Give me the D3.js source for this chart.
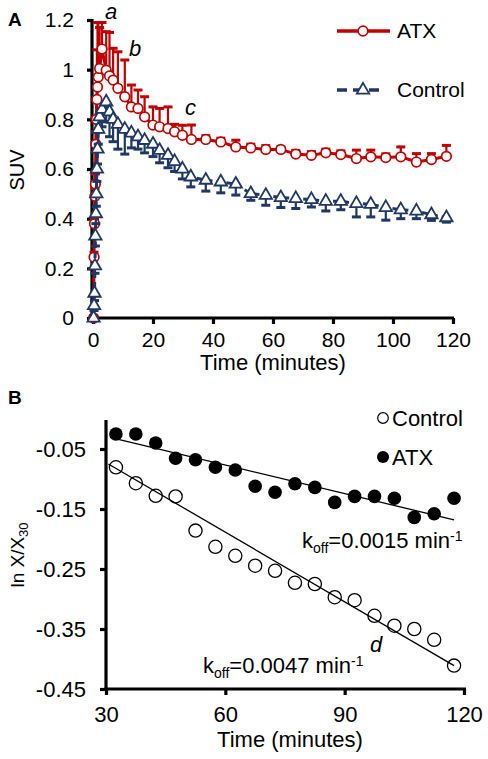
<!DOCTYPE html>
<html><head><meta charset="utf-8">
<script src="https://cdn.jsdelivr.net/npm/d3@7"></script>
<style>
html,body{margin:0;padding:0;background:#fff;}
svg{display:block;font-family:"Liberation Sans",Arial,sans-serif;}
</style></head>
<body><svg id="c" width="488" height="759"></svg>
<script>
// ---------- Panel A data (SUV vs time) ----------
const atxTime = [0.2,0.35,0.5,0.65,0.8,0.95,1.1,1.3,1.5,1.75,2.2,3.0,4.4,5.5,6.7,8.3,10.6,12.8,15.0,17.2,20.0,22.2,25.0,27.2,29.8,32.8,37.6,42.6,47.6,52.6,57.6,62.6,67.6,72.8,77.6,82.6,87.8,92.6,97.6,102.6,107.8,112.8,117.8];
const atxSUV  = [0,0.245,0.38,0.49,0.54,0.70,0.80,0.88,0.93,0.97,1.005,1.083,0.998,0.975,0.958,0.925,0.891,0.85,0.844,0.81,0.777,0.77,0.763,0.75,0.736,0.719,0.719,0.709,0.689,0.685,0.679,0.679,0.66,0.655,0.665,0.658,0.642,0.649,0.646,0.649,0.628,0.638,0.651];
const atxErr  = [0.01,0.02,0.02,0.03,0.04,0.05,0.08,0.2,0.26,0.22,0.165,0.107,0.155,0.175,0.128,0.147,0.148,0.088,0.074,0.081,0.073,0.074,0.087,0.03,0.04,0.058,0.015,0.015,0.027,0.015,0.015,0.01,0.015,0.015,0.015,0.015,0.034,0.027,0.015,0.04,0.034,0.024,0.044];

const ctlTime = [0.2,0.35,0.5,0.65,0.8,0.95,1.1,1.3,1.5,1.75,2.2,3.0,4.4,5.5,6.7,8.3,10.6,12.8,15.0,17.2,20.0,22.2,25.0,27.2,29.8,32.6,37.6,42.6,47.6,52.6,57.6,62.6,67.6,72.8,77.6,82.6,87.8,92.6,97.6,102.6,107.8,112.8,117.8];
const ctlSUV  = [0,0.05,0.1,0.21,0.33,0.42,0.5,0.6,0.68,0.76,0.81,0.84,0.87,0.83,0.80,0.78,0.76,0.745,0.73,0.715,0.70,0.675,0.655,0.63,0.60,0.568,0.555,0.548,0.539,0.501,0.494,0.485,0.481,0.477,0.470,0.470,0.461,0.458,0.445,0.436,0.431,0.416,0.404];
const ctlErr  = [0.01,0.02,0.03,0.03,0.04,0.04,0.05,0.05,0.06,0.06,0.06,0.07,0.08,0.10,0.09,0.10,0.10,0.06,0.05,0.05,0.05,0.05,0.05,0.04,0.04,0.04,0.044,0.044,0.044,0.027,0.04,0.04,0.04,0.03,0.039,0.034,0.054,0.051,0.051,0.036,0.031,0.023,0.018];

const topXTicks = [0,20,40,60,80,100,120];
const topYTicks = [0,0.2,0.4,0.6,0.8,1,1.2];

// ---------- Panel B data (ln X/X30 vs time) ----------
const koTime = [32.5,37.5,42.5,47.5,52.5,57.5,62.5,67.5,72.5,77.5,82.5,87.5,92.5,97.5,102.5,107.5,112.5,117.5];
const koATX  = [-0.025,-0.025,-0.04,-0.0655,-0.068,-0.0805,-0.085,-0.112,-0.122,-0.108,-0.114,-0.139,-0.129,-0.129,-0.132,-0.164,-0.158,-0.132];
const koCtl  = [-0.0805,-0.107,-0.128,-0.129,-0.186,-0.213,-0.228,-0.2445,-0.253,-0.273,-0.275,-0.297,-0.302,-0.328,-0.3445,-0.35,-0.368,-0.411];
const fitATX = [[31,-0.0305],[117.5,-0.168]];
const fitCtl = [[30.6,-0.075],[117.5,-0.411]];
const botXTicks = [30,60,90,120];
const botYTicks = [-0.05,-0.15,-0.25,-0.35,-0.45];

const RED = "#C00000", BLUE = "#1F3864";
const FONT = "Liberation Sans, Arial, sans-serif";
const svg = d3.select("#c");

function styleAxis(g, fs){
  g.attr("font-size",fs).attr("font-family",FONT);
  g.select(".domain").attr("stroke","#000").attr("stroke-width",3.2);
  g.selectAll(".tick line").attr("stroke","#000").attr("stroke-width",3.2);
  g.selectAll(".tick text").attr("fill","#000");
}
const hyph = f => d => f(d).replace("\u2212","-");

// ================= Panel A =================
const xA = d3.scaleLinear().domain([0,120]).range([93,453]);
const yA = d3.scaleLinear().domain([0,1.2]).range([318,20]);

const axA_y = svg.append("g").attr("transform","translate(92,0)")
  .call(d3.axisLeft(yA).tickValues(topYTicks).tickFormat(d3.format("~g")).tickSize(5).tickSizeOuter(0).tickPadding(13));
styleAxis(axA_y,21);
axA_y.select(".domain").attr("d","M0,319.5V19");
const axA_x = svg.append("g").attr("transform","translate(0,318)")
  .call(d3.axisBottom(xA).tickValues(topXTicks).tickSize(6).tickSizeOuter(0).tickPadding(8));
styleAxis(axA_x,21);
axA_x.select(".domain").attr("d","M91,0H454");

const atx = atxTime.map((t,i)=>({t,v:atxSUV[i],e:atxErr[i]}));
const ctl = ctlTime.map((t,i)=>({t,v:ctlSUV[i],e:ctlErr[i]}));
const lineA = d3.line().x(d=>xA(d.t)).y(d=>yA(d.v));

// ATX
svg.append("path").attr("d",lineA(atx)).attr("fill","none").attr("stroke",RED).attr("stroke-width",3);
const eA = svg.append("g").attr("stroke",RED).attr("stroke-width",2.2);
atx.forEach(d=>{
  eA.append("line").attr("x1",xA(d.t)).attr("x2",xA(d.t)).attr("y1",yA(d.v)).attr("y2",yA(d.v+d.e));
  eA.append("line").attr("x1",xA(d.t)-4.5).attr("x2",xA(d.t)+4.5).attr("y1",yA(d.v+d.e)).attr("y2",yA(d.v+d.e)).attr("stroke-width",3);
});
svg.append("g").selectAll("circle").data(atx).join("circle")
  .attr("cx",d=>xA(d.t)).attr("cy",d=>yA(d.v)).attr("r",4.8)
  .attr("fill","#fff").attr("stroke",RED).attr("stroke-width",1.7);

// Control
svg.append("path").attr("d",lineA(ctl)).attr("fill","none").attr("stroke",BLUE).attr("stroke-width",3).attr("stroke-dasharray","6,4");
const eC = svg.append("g").attr("stroke",BLUE).attr("stroke-width",2.2);
ctl.forEach(d=>{
  eC.append("line").attr("x1",xA(d.t)).attr("x2",xA(d.t)).attr("y1",yA(d.v)).attr("y2",yA(d.v-d.e));
  eC.append("line").attr("x1",xA(d.t)-4.5).attr("x2",xA(d.t)+4.5).attr("y1",yA(d.v-d.e)).attr("y2",yA(d.v-d.e)).attr("stroke-width",3);
});
const tri = d3.symbol().type(d3.symbolTriangle).size(66);
svg.append("g").selectAll("path").data(ctl).join("path")
  .attr("d",tri).attr("transform",d=>`translate(${xA(d.t)},${yA(d.v)})`)
  .attr("fill","#fff").attr("stroke",BLUE).attr("stroke-width",1.8);

// legend A
svg.append("line").attr("x1",337).attr("x2",390).attr("y1",31).attr("y2",31).attr("stroke",RED).attr("stroke-width",3.5);
svg.append("circle").attr("cx",363).attr("cy",31).attr("r",4.8).attr("fill","#fff").attr("stroke",RED).attr("stroke-width",1.7);
svg.append("text").attr("x",397).attr("y",38).attr("font-size",21).text("ATX");
svg.append("line").attr("x1",337).attr("x2",385).attr("y1",90).attr("y2",90).attr("stroke",BLUE).attr("stroke-width",3.5).attr("stroke-dasharray","10,6");
svg.append("path").attr("d",tri).attr("transform","translate(363,90)").attr("fill","#fff").attr("stroke",BLUE).attr("stroke-width",1.8);
svg.append("text").attr("x",397).attr("y",97).attr("font-size",21).text("Control");

// labels A
svg.append("text").attr("x",8).attr("y",26).attr("font-size",19).attr("font-weight","bold").text("A");
svg.append("text").attr("transform","translate(24,170) rotate(-90)").attr("text-anchor","middle").attr("font-size",20).text("SUV");
svg.append("text").attr("x",273).attr("y",370).attr("text-anchor","middle").attr("font-size",22).text("Time (minutes)");
svg.append("text").attr("x",105).attr("y",19).attr("font-size",22).attr("font-style","italic").text("a");
svg.append("text").attr("x",129).attr("y",56).attr("font-size",22).attr("font-style","italic").text("b");
svg.append("text").attr("x",185).attr("y",115).attr("font-size",22).attr("font-style","italic").text("c");

// ================= Panel B =================
const xB = d3.scaleLinear().domain([30,120]).range([106,464]);
const yB = d3.scaleLinear().domain([-0.45,0]).range([689,419]);
const axB_y = svg.append("g").attr("transform","translate(106,0)")
  .call(d3.axisLeft(yB).tickValues(botYTicks).tickFormat(hyph(d3.format(".2f"))).tickSize(6).tickSizeOuter(0).tickPadding(14));
styleAxis(axB_y,22);
axB_y.select(".domain").attr("d","M0,690.5V420");
const axB_x = svg.append("g").attr("transform","translate(0,689)")
  .call(d3.axisBottom(xB).tickValues(botXTicks).tickSize(6).tickSizeOuter(0).tickPadding(11));
styleAxis(axB_x,22);
axB_x.select(".domain").attr("d","M104.5,0H466");

const lineB = d3.line().x(d=>xB(d[0])).y(d=>yB(d[1]));
svg.append("path").attr("d",lineB(fitATX)).attr("stroke","#000").attr("stroke-width",1.3).attr("fill","none");
svg.append("path").attr("d",lineB(fitCtl)).attr("stroke","#000").attr("stroke-width",1.3).attr("fill","none");
svg.append("g").selectAll("circle").data(koTime.map((t,i)=>[t,koATX[i]])).join("circle")
  .attr("cx",d=>xB(d[0])).attr("cy",d=>yB(d[1])).attr("r",6.8).attr("fill","#000");
svg.append("g").selectAll("circle").data(koTime.map((t,i)=>[t,koCtl[i]])).join("circle")
  .attr("cx",d=>xB(d[0])).attr("cy",d=>yB(d[1])).attr("r",6.6).attr("fill","none").attr("stroke","#000").attr("stroke-width",1.3);

// legend B
svg.append("circle").attr("cx",383).attr("cy",418).attr("r",5.3).attr("fill","none").attr("stroke","#000").attr("stroke-width",1.2);
svg.append("text").attr("x",392).attr("y",426).attr("font-size",22).text("Control");
svg.append("circle").attr("cx",383).attr("cy",457).attr("r",6).attr("fill","#000");
svg.append("text").attr("x",392).attr("y",465).attr("font-size",22).text("ATX");

// labels B
svg.append("text").attr("x",8).attr("y",404).attr("font-size",19).attr("font-weight","bold").text("B");
const yl = svg.append("text").attr("transform","translate(24,555) rotate(-90)").attr("text-anchor","middle").attr("font-size",19);
yl.append("tspan").text("ln X/X");
yl.append("tspan").attr("font-size",13).attr("baseline-shift","-4").text("30");
svg.append("text").attr("x",290).attr("y",747).attr("text-anchor","middle").attr("font-size",22).text("Time (minutes)");
svg.append("text").attr("x",370).attr("y",652).attr("font-size",22).attr("font-style","italic").text("d");
function koff(x,y,val){
  const t = svg.append("text").attr("x",x).attr("y",y).attr("font-size",22);
  t.append("tspan").text("k");
  t.append("tspan").attr("font-size",14).attr("baseline-shift","-5").text("off");
  t.append("tspan").text("=" + val + " min");
  t.append("tspan").attr("font-size",14).attr("baseline-shift","7").text("-1");
}
koff(302,548,"0.0015");
koff(203,673,"0.0047");
</script></body></html>
